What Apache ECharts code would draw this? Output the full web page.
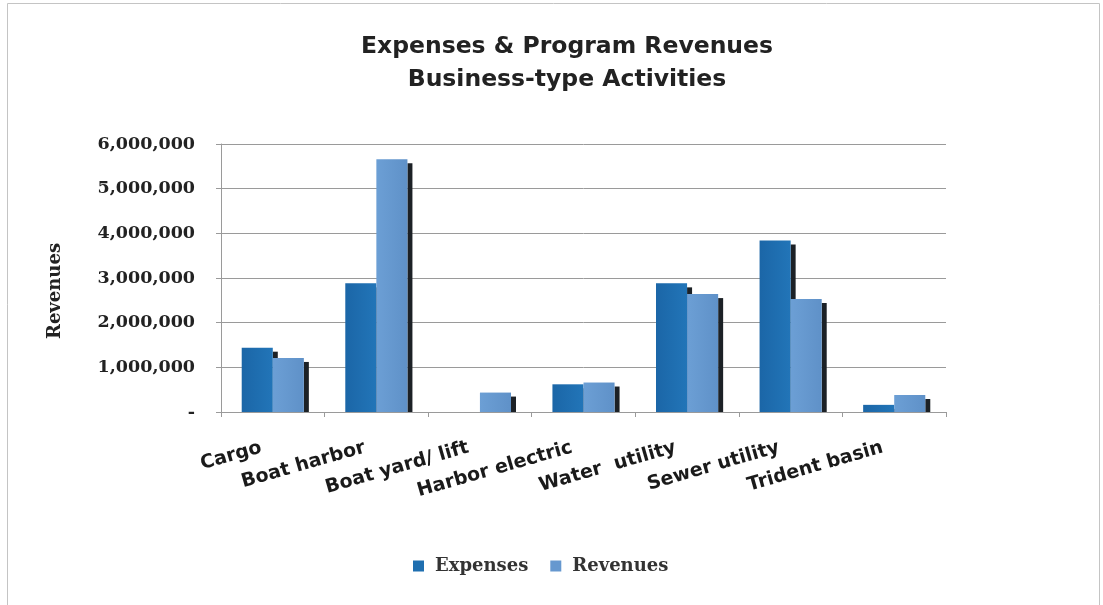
<!DOCTYPE html>
<html>
<head>
<meta charset="utf-8">
<script src="https://cdn.jsdelivr.net/npm/echarts@6/dist/echarts.min.js"></script>
<style>
  html, body { margin: 0; padding: 0; background: #ffffff; }
  #chart { width: 1103px; height: 605px; }
</style>
</head>
<body>
<div id="chart"></div>
<script>
// Business-type activities: expenses and program revenues by fund
const categories = ['Cargo', 'Boat harbor', 'Boat yard/ lift', 'Harbor electric', 'Water  utility', 'Sewer utility', 'Trident basin'];
const expenses = [1440000, 2880000, 0, 620000, 2880000, 3840000, 160000];
const revenues = [1210000, 5660000, 435000, 660000, 2640000, 2530000, 380000];
const yTicks = [0, 1000000, 2000000, 3000000, 4000000, 5000000, 6000000];

const EXP_COLOR = '#1f6fb0';
const REV_COLOR = '#6698cf';
const SHADOW_COLOR = '#1c2126';

const chart = echarts.init(document.getElementById('chart'));

// Bars with a hard drop shadow on the right side, stopping at the baseline
function barRenderer(slot, colors) {
  return function (params, api) {
    const cat = api.value(0);
    const val = api.value(1);
    const catWidth = api.size([1, 0])[0];
    const barW = catWidth * 0.3;
    const base = api.coord([cat, 0]);
    const top = api.coord([cat, val]);
    const x = base[0] - barW + slot * barW;
    const h = base[1] - top[1];
    if (h <= 0) return null;
    const shadowOff = 4;
    return {
      type: 'group',
      children: [
        {
          type: 'rect',
          shape: { x: x + barW, y: top[1] + shadowOff, width: 5, height: Math.max(h - shadowOff, 0) },
          style: { fill: SHADOW_COLOR }
        },
        {
          type: 'rect',
          shape: { x: x, y: top[1], width: barW, height: h },
          style: {
            fill: new echarts.graphic.LinearGradient(0, 0, 1, 0, [
              { offset: 0, color: colors[0] },
              { offset: 1, color: colors[1] }
            ])
          }
        }
      ]
    };
  };
}

const option = {
  backgroundColor: '#ffffff',
  animation: false,
  title: {
    text: 'Expenses & Program Revenues\nBusiness-type Activities',
    left: 562,
    top: 25,
    textAlign: 'center',
    textStyle: {
      fontFamily: 'DejaVu Sans',
      fontWeight: 'bold',
      fontSize: 23.5,
      lineHeight: 33,
      color: '#222222'
    }
  },
  legend: {
    data: ['Expenses', 'Revenues'],
    left: 413,
    top: 557,
    padding: 0,
    icon: 'rect',
    itemWidth: 11,
    itemHeight: 11,
    itemGap: 22,
    textStyle: {
      fontFamily: 'DejaVu Serif',
      fontWeight: 'bold',
      fontSize: 18,
      color: '#333333',
      padding: [0, 0, 0, 6]
    }
  },
  grid: { left: 221, right: 157, top: 144, bottom: 193 },
  xAxis: {
    type: 'category',
    data: categories,
    boundaryGap: true,
    axisLine: { show: true, lineStyle: { color: '#9a9a9a', width: 1 } },
    axisTick: { show: true, length: 5, lineStyle: { color: '#9a9a9a' } },
    axisLabel: {
      rotate: 16,
      margin: 32,
      interval: 0,
      padding: [0, 12, 0, 0],
      fontFamily: 'DejaVu Sans',
      fontWeight: 'bold',
      fontSize: 19,
      color: '#1a1a1a'
    }
  },
  yAxis: {
    type: 'value',
    min: yTicks[0],
    max: yTicks[yTicks.length - 1],
    interval: yTicks[1] - yTicks[0],
    name: 'Revenues',
    nameLocation: 'middle',
    nameGap: 157,
    nameRotate: 90,
    nameTextStyle: {
      fontFamily: 'DejaVu Serif',
      fontWeight: 'bold',
      fontSize: 18,
      color: '#222222',
      padding: [0, 26, 0, 0]
    },
    axisLine: { show: true, lineStyle: { color: '#9a9a9a', width: 1 } },
    axisTick: { show: true, length: 5, lineStyle: { color: '#9a9a9a' } },
    splitLine: { show: true, lineStyle: { color: '#9a9a9a', width: 1 } },
    axisLabel: {
      margin: 26,
      fontFamily: 'DejaVu Serif',
      fontWeight: 'bold',
      fontSize: 17.5,
      color: '#222222',
      formatter: function (v) {
        return v === 0 ? '-' : v.toLocaleString('en-US');
      }
    }
  },
  graphic: [
    {
      type: 'rect',
      silent: true,
      z: -1,
      shape: { x: 7.5, y: 3.5, width: 1092, height: 610 },
      style: { fill: 'none', stroke: '#c4c4c4', lineWidth: 1 }
    }
  ],
  series: [
    {
      name: 'Expenses',
      type: 'custom',
      itemStyle: { color: EXP_COLOR },
      encode: { x: 0, y: 1 },
      data: expenses.map((v, i) => [i, v]),
      renderItem: barRenderer(0, ['#1b66a7', '#2275b8'])
    },
    {
      name: 'Revenues',
      type: 'custom',
      itemStyle: { color: REV_COLOR },
      encode: { x: 0, y: 1 },
      data: revenues.map((v, i) => [i, v]),
      renderItem: barRenderer(1, ['#6c9fd5', '#5f91c8'])
    }
  ]
};

chart.setOption(option);
</script>
</body>
</html>
